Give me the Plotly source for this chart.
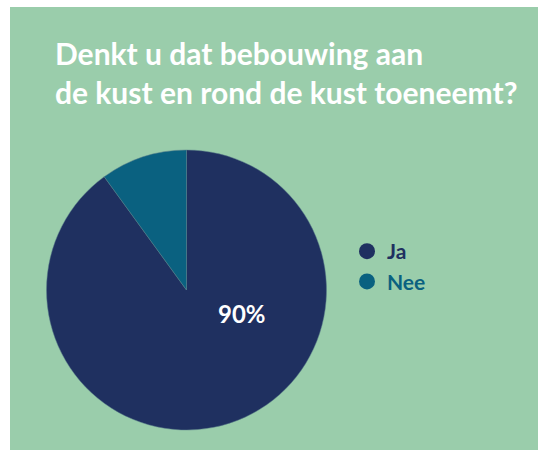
import plotly.graph_objects as go

categories = ["Ja", "Nee"]
values = [90, 10]
slice_colors = ["#1F3060", "#0A6180"]
title_lines = ["Denkt u dat bebouwing aan", "de kust en rond de kust toeneemt?"]

W, H = 538, 450
GREEN = "#9ACDAB"
FONT = "Lato"

fig = go.Figure()

fig.add_trace(go.Pie(
    labels=categories,
    values=values,
    marker=dict(colors=slice_colors, line=dict(color="#5A7F8A", width=0.5)),
    sort=False,
    direction="clockwise",
    rotation=0,
    textinfo="none",
    hoverinfo="label+percent",
    showlegend=False,
    domain=dict(x=[46.5 / W, 326.5 / W], y=[1 - 430 / H, 1 - 150 / H]),
))

for name, col in zip(categories, slice_colors):
    fig.add_trace(go.Scatter(
        x=[None], y=[None], mode="markers",
        marker=dict(symbol="circle", size=16, color=col),
        name=f"<span style='color:{col}'>{name}</span>",
        showlegend=True,
    ))

fig.add_shape(type="rect", xref="paper", yref="paper",
              x0=10 / W, x1=1.02, y0=-0.02, y1=1 - 7 / H,
              fillcolor=GREEN, line=dict(width=0), layer="below")

fig.add_annotation(
    text=f"{values[0]}%", xref="paper", yref="paper",
    x=242 / W, y=1 - 313 / H, showarrow=False,
    xanchor="center", yanchor="middle",
    font=dict(family=FONT, size=24, color="white", weight="bold"),
)

fig.update_layout(
    width=W, height=H,
    margin=dict(l=0, r=0, t=0, b=0),
    paper_bgcolor="white",
    plot_bgcolor="rgba(0,0,0,0)",
    title=dict(
        text="<br>".join(title_lines),
        x=55 / W, xanchor="left", xref="paper",
        y=1 - 65 / H, yanchor="top", yref="paper",
        font=dict(family=FONT, size=30, color="white", weight="bold"),
    ),
    legend=dict(
        x=347 / W, xanchor="left",
        y=1 - 266.5 / H, yanchor="middle",
        font=dict(family=FONT, size=21, color="#1F3060", weight="bold"),
        bgcolor="rgba(0,0,0,0)",
    ),
    xaxis=dict(visible=False),
    yaxis=dict(visible=False),
)

fig.write_html(
    "out.html",
    config={"displayModeBar": False},
    post_script="document.body.style.margin='0';document.body.style.overflow='hidden';",
)
